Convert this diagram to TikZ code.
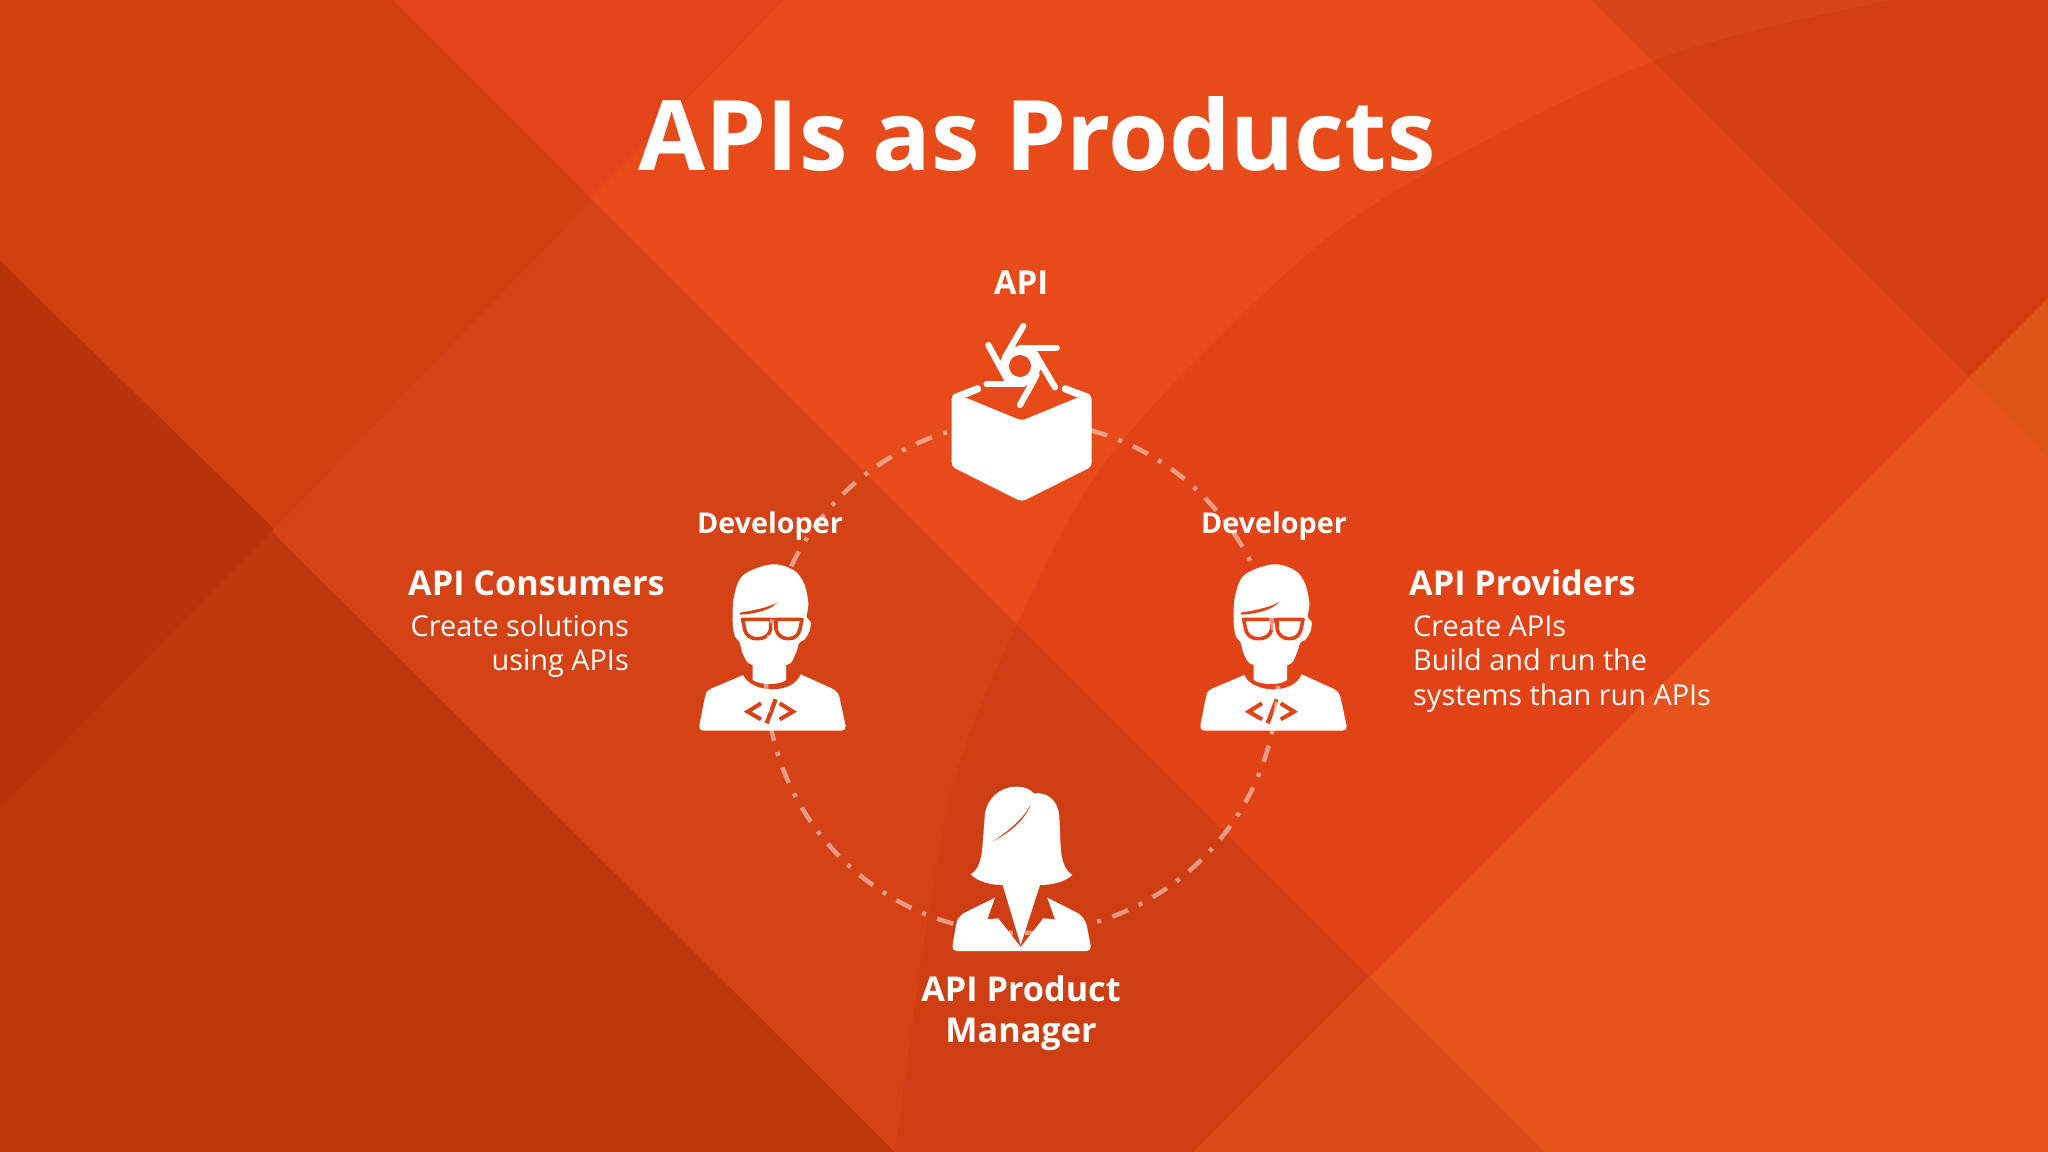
\documentclass[tikz,border=0pt]{standalone}
\usepackage{fontspec}
\setmainfont{Open Sans}
\usetikzlibrary{calc}
\definecolor{bgBase}{HTML}{E74B19}
\definecolor{bgTop}{HTML}{E04418}
\definecolor{bgCurve}{HTML}{E14316}
\definecolor{bgBand}{HTML}{D44216}
\definecolor{bgBandUp}{HTML}{D0400F}
\definecolor{bgBandCurve}{HTML}{CF3E12}
\definecolor{bgLow}{HTML}{BC370C}
\definecolor{bgLowUp}{HTML}{B8330A}
\definecolor{bgD}{HTML}{E8521C}
\definecolor{bgDleft}{HTML}{D84A18}
\definecolor{bgE}{HTML}{D23E0F}
\definecolor{bgEstrip}{HTML}{D54516}
\definecolor{bgTri}{HTML}{DF5518}
\tikzset{
  titletext/.style={anchor=base,inner sep=0pt,text=white,font=\fontsize{97.4}{98}\selectfont\bfseries},
  roletext/.style={anchor=base,inner sep=0pt,text=white,font=\fontsize{28.7}{30}\selectfont\bfseries},
  apitext/.style={anchor=base,inner sep=0pt,text=white,font=\fontsize{33}{34}\selectfont\bfseries},
  headtext/.style={inner sep=0pt,text=white,font=\fontsize{34.2}{35}\selectfont\bfseries},
  bodytext/.style={inner sep=0pt,text=white,font=\fontsize{28.85}{30}\selectfont},
  iconscale/.style={x=0.33333pt,y=-0.33333pt},
  loopline/.style={draw=white,draw opacity=.48,line width=4.5pt,dash pattern=on 17pt off 12pt on 4pt off 11.7pt,dash phase=20pt}
}
\newcommand{\devicon}[2]{%
  \begin{scope}[shift={(#1,540)},iconscale]
    \fill[white] plot[smooth cycle,tension=.55] coordinates {(158,245)(162,170)(190,105)(275,73)(340,90)(372,130)(385,190)(380,232)(392,245)(388,275)(372,300)(358,308)(345,345)(320,375)(218,375)(190,345)(178,305)(165,290)};
    \fill[white] (218,360) -- (218,420) .. controls (240,436) and (300,436) .. (318,420) -- (318,360) -- cycle;
    \fill[white] (95,445) -- (190,405) .. controls (200,432) and (240,448) .. (275,448) .. controls (320,448) and (350,432) .. (362,403) -- (455,445) .. controls (470,453) and (476,462) .. (478,470) [rounded corners=5pt] -- (500,572) -- (55,572) -- (75,470) [sharp corners] .. controls (80,455) and (88,448) .. (95,445) -- cycle;
    \fill[#2] (180,224) .. controls (225,222) and (275,210) .. (295,185) .. controls (270,202) and (225,210) .. (180,218) -- cycle;
    \draw[#2,line width=3.6pt,line join=round,fill=white] (188,238) -- (272,238) -- (272,268) .. controls (268,285) and (255,296) .. (232,296) .. controls (210,296) and (198,285) .. (194,268) -- cycle;
    \draw[#2,line width=3.6pt,line join=round,fill=white] (288,238) -- (366,238) -- (360,268) .. controls (355,285) and (345,296) .. (325,296) .. controls (305,296) and (293,285) .. (288,268) -- cycle;
    \fill[#2] (272,233) rectangle (288,250);
    \draw[#2,line width=4pt,line join=miter] (243,490) -- (203,515) -- (243,538);
    \draw[#2,line width=4pt,line join=miter] (299,490) -- (339,515) -- (299,538);
    \draw[#2,line width=4.2pt] (287,478) -- (260,550);
  \end{scope}}
\begin{document}
\begin{tikzpicture}[x=1pt,y=-1pt]
\useasboundingbox (0,0) rectangle (2048,1151.6);
\begin{scope}
\clip (0,0) rectangle (2048,1151.6);
\fill[bgBase] (0,0) rectangle (2048,1152);
\fill[bgTop] (392,0) -- (784,0) -- (588,200) -- cycle;
\fill[bgCurve] plot[smooth] coordinates {(895,1152)(947,808)(1024,610)(1122,441)(1351,220)(1651,62)(1893,0)} -- (2048,0) -- (2048,1152) -- cycle;
\fill[bgBand] (0,0) -- (392,0) -- (1544,1152) -- (895,1152) -- (0,261) -- cycle;
\fill[bgBandUp] (0,0) -- (392,0) -- (592,200) -- (274,529) -- (0,261) -- cycle;
\begin{scope}
  \clip (392,0) -- (1544,1152) -- (895,1152) -- cycle;
  \fill[bgBandCurve] plot[smooth] coordinates {(895,1152)(947,808)(1024,610)(1122,441)(1351,220)(1651,62)(1893,0)} -- (2048,0) -- (2048,1152) -- cycle;
\end{scope}
\fill[bgLow] (0,261) -- (895,1152) -- (0,1152) -- cycle;
\fill[bgLowUp] (0,261) -- (274,529) -- (0,808) -- cycle;
\fill[bgD] (1194,1152) -- (2048,298) -- (2048,1152) -- cycle;
\fill[bgDleft] (1194,1152) -- (1369,977) -- (1544,1152) -- cycle;
\fill[bgE] (1592,0) -- (2048,456) -- (2048,0) -- cycle;
\begin{scope}
  \clip (1592,0) -- (2048,456) -- (2048,0) -- cycle;
  \fill[bgEstrip] plot[smooth] coordinates {(1351,220)(1651,62)(1893,0)} -- (1351,0) -- cycle;
\end{scope}
\fill[bgTri] (1968,378) -- (2048,298) -- (2048,456) -- cycle;
\end{scope}

% API box icon
\begin{scope}[shift={(920,300)},iconscale]
  \fill[white,rounded corners=4pt] (95,285) -- (135,292) -- (305,362) -- (475,292) -- (515,285) -- (515,500) -- (305,605) -- (95,500) -- cycle;
  \fill[white,rounded corners=3pt] (95,285) -- (178,253) -- (187,272) -- (135,294) -- (100,296) -- cycle;
  \fill[white,rounded corners=3pt] (515,285) -- (430,253) -- (422,272) -- (475,294) -- (510,296) -- cycle;
  \fill[white] (232,198) -- (265,140) -- (335,140) -- (368,198) -- (335,256) -- (265,256) -- cycle;
  \begin{scope}[line width=6.2pt,line cap=round,draw=white]
    \draw (310,78) -- (255,172);
    \draw (205,135) -- (262,240);
    \draw (410,143) -- (300,143);
    \draw (200,253) -- (310,253);
    \draw (300,315) -- (350,225);
    \draw (405,262) -- (345,160);
  \end{scope}
  \fill[bgBase] (300,198) circle (33);
\end{scope}

% developers and manager
\devicon{680}{bgBand}
\devicon{1181}{bgCurve}
\begin{scope}[shift={(930,770)},iconscale]
  \fill[white] (122,313) .. controls (145,300) and (155,270) .. (158,220) -- (165,130) .. controls (172,85) and (210,50) .. (260,50) .. controls (285,50) and (300,58) .. (312,70) .. controls (350,65) and (385,90) .. (388,140) -- (392,230) .. controls (395,275) and (405,300) .. (427,315) .. controls (405,335) and (370,345) .. (330,345) -- (272,525) -- (218,345) .. controls (180,345) and (145,335) .. (122,313) -- cycle;
  \fill[white] (100,430) -- (195,383) -- (172,448) -- (205,445) -- (272,531) -- (340,445) -- (375,448) -- (352,383) -- (445,430) .. controls (458,440) and (466,452) .. (470,465) [rounded corners=5pt] -- (485,543) -- (65,543) -- (78,465) [sharp corners] .. controls (82,450) and (90,437) .. (100,430) -- cycle;
  \fill[bgBandCurve] (190,213) .. controls (240,188) and (285,148) .. (302,105) .. controls (280,145) and (240,180) .. (190,213) -- cycle;
\end{scope}

% dashed loop
\path[loopline] (1022,677) circle (256);

% text
\node[titletext] (title) at (1037,170) {APIs as Products};
\node[apitext] (apilabel) at (1021,294) {API};
\node[roletext] (devleft) at (770,533) {Developer};
\node[roletext] (devright) at (1274,533) {Developer};
\node[headtext,anchor=base west] (consumers) at (408,595) {API Consumers};
\node[bodytext,anchor=base east] (consa) at (629,636) {Create solutions};
\node[bodytext,anchor=base east] (consb) at (629,670) {using APIs};
\node[headtext,anchor=base west] (providers) at (1409,595) {API Providers};
\node[bodytext,anchor=base west] (prova) at (1413,636) {Create APIs};
\node[bodytext,anchor=base west] (provb) at (1413,670) {Build and run the};
\node[bodytext,anchor=base west] (provc) at (1413,705) {systems than run APIs};
\node[headtext,anchor=base] (pma) at (1021,1001) {API Product};
\node[headtext,anchor=base] (pmb) at (1021,1042) {Manager};
\end{tikzpicture}
\end{document}
